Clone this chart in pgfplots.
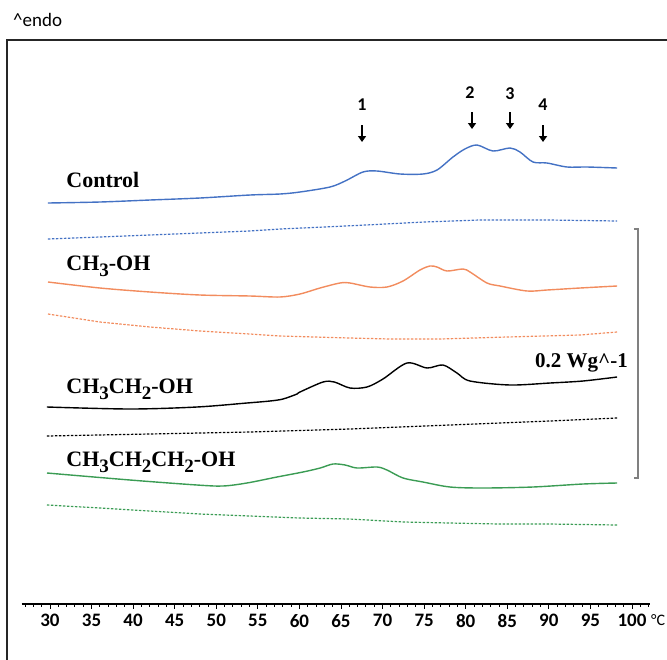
\documentclass[border=0pt]{standalone}
\usepackage{fontspec}
\setmainfont{Liberation Serif}
\newfontfamily\calibri{Carlito}
\usepackage{pgfplots}
\pgfplotsset{compat=1.18}
\usetikzlibrary{arrows.meta}

\definecolor{cblue}{HTML}{4472C4}
\definecolor{corange}{HTML}{F28C5E}
\definecolor{cgreen}{HTML}{3B9C54}

\pgfplotsset{
  curve/.style={line width=1.4bp, smooth, tension=0.5, mark=none},
  base/.style={line width=1.2bp, mark=none, dash pattern=on 2.5bp off 1.5bp},
}
\newcommand{\lab}{\bfseries\fontsize{22bp}{24bp}\selectfont}
\newcommand{\sub}[1]{\raisebox{-0.3em}{\fontsize{19bp}{20bp}\selectfont #1}}
\tikzset{pk/.style={line width=1.8bp, -{Triangle[width=8bp,length=6bp]}},
  num/.style={font=\calibri\bfseries\fontsize{18bp}{20bp}\selectfont}}

\begin{document}
\begin{tikzpicture}
\useasboundingbox (0,0) rectangle (667bp,660bp);

% curves, y in pixels from the top
\begin{axis}[
  at={(0,0)}, anchor=south west,
  scale only axis, width=667bp, height=660bp,
  xmin=23.99, xmax=104.21, ymin=0, ymax=660, y dir=reverse,
  hide axis, clip=false
]
% Control
\addplot[cblue, curve] coordinates {
 (29.76,203) (36.01,202) (42.03,200) (48.04,198) (54.06,195) (57.66,194)
 (60.07,192) (63.68,187) (65.5,181) (67.65,172) (69.33,171) (72.10,174)
 (74.86,174) (76.55,170) (78.47,157) (79.9,149) (81.36,145) (83.28,151)
 (85.33,148) (86.53,152) (88.09,162) (89.78,163) (92.18,167) (94.59,167)
 (98.20,168)
};
\addplot[cblue, base] coordinates {
 (29.76,239) (36,237) (42,235) (48,233) (54,231) (57.66,229) (63,227)
 (68,225) (75,222) (81.7,220) (90,220) (98.2,221)
};
% CH3-OH
\addplot[corange, curve] coordinates {
 (29.76,282) (36.01,288) (42.03,292) (48.04,295) (54.06,296) (57.66,297)
 (60.07,294) (62.48,288) (64.88,283) (66.08,283) (68.49,287) (70.53,287)
 (72.46,281) (74.50,270) (75.71,266) (76.55,267) (77.75,271) (79.67,269)
 (80.52,272) (82.56,283) (84.13,286) (87.37,291) (89.78,290) (93.75,288)
 (98.20,286)
};
\addplot[corange, base] coordinates {
 (29.76,314) (36.01,322) (42.03,327) (48.04,331) (54.06,334) (57.66,336)
 (66,338) (70.9,339) (76.9,339) (85,337) (93.75,335) (98.2,332)
};
% CH3CH2-OH
\addplot[black, curve] coordinates {
 (29.64,407) (39.62,409) (47.68,407) (53.69,403) (56.46,401) (58.03,399)
 (59.71,394) (60.07,392) (62.84,382) (64.2,382) (66.08,388) (68.13,387)
 (70.05,379) (72.94,363) (75.35,368) (77.27,365) (78.95,373) (80.52,381)
 (85.33,385) (90.14,383) (94.11,381) (98.20,377)
};
\addplot[black, base] coordinates {
 (29.64,436) (42,434) (54.06,432) (66.08,429) (78.11,425) (90.14,421)
 (98.2,418)
};
% CH3CH2CH2-OH
\addplot[cgreen, curve] coordinates {
 (29.64,473) (39.62,480) (47.68,485) (50.81,486) (53.69,483) (57.3,477)
 (60.43,472) (62.5,468) (64.04,464) (65.5,465) (66.93,468) (69.33,467)
 (70.53,470) (72.46,478) (74.86,482) (78.11,487) (82.08,488) (88.09,487)
 (94.11,484) (98.20,483)
};
\addplot[cgreen, base] coordinates {
 (29.64,505) (36,508) (42,511) (48,514) (54,516) (60,518) (66,519)
 (72.5,522) (78,523) (84,524) (90,524) (98.2,525)
};

% sample labels
\node[anchor=base west, inner sep=0pt] at (axis cs:31.95,187) {\lab Control};
\node[anchor=base west, inner sep=0pt] at (axis cs:31.95,270) {\lab CH\sub{3}-OH};
\node[anchor=base west, inner sep=0pt] at (axis cs:31.95,393) {\lab CH\sub{3}CH\sub{2}-OH};
\node[anchor=base west, inner sep=0pt] at (axis cs:31.95,466) {\lab CH\sub{3}CH\sub{2}CH\sub{2}-OH};

% peak arrows
\draw[pk] (axis cs:67.53,125) -- (axis cs:67.53,142);
\draw[pk] (axis cs:80.76,112) -- (axis cs:80.76,129);
\draw[pk] (axis cs:85.33,112) -- (axis cs:85.33,129);
\draw[pk] (axis cs:89.30,125) -- (axis cs:89.30,142);
\node[num] at (axis cs:67.53,105) {1};
\node[num] at (axis cs:80.52,93) {2};
\node[num] at (axis cs:85.33,94) {3};
\node[num] at (axis cs:89.30,105) {4};

% scale bar
\draw[gray, line width=1.2bp] (axis cs:100.24,229) -- (axis cs:100.72,229) -- (axis cs:100.72,478) -- (axis cs:100.24,478);
\node[anchor=base west, inner sep=0pt] at (axis cs:88.33,367) {\bfseries\fontsize{21bp}{22bp}\selectfont 0.2 Wg\^{}-1};
\node[anchor=west, inner sep=0pt, font=\calibri\fontsize{16bp}{18bp}\selectfont] at (axis cs:102.29,620) {\textdegree C};
\end{axis}

% temperature axis
\begin{axis}[
  at={(21.7bp,56bp)}, anchor=south west,
  scale only axis, width=628.6bp, height=10bp,
  xmin=26.6, xmax=102.2, ymin=0, ymax=1,
  axis x line*=bottom, axis y line=none,
  x axis line style={line width=2.8bp},
  xtick={30,35,...,100},
  minor xtick={27,28,...,102},
  xtick align=outside,
  major tick length=5bp, minor tick length=3bp,
  tick style={black, line width=0.9bp},
  /pgf/number format/assume math mode=true,
  xticklabel style={font=\calibri\bfseries\fontsize{19bp}{20bp}\selectfont, yshift=-2bp},
]
\addplot[draw=none] coordinates {(30,0.5) (100,0.5)};
\end{axis}

% frame and corner label
\draw[black!85, line width=1.8bp] (7bp,0bp) -- (7bp,620bp) -- (667bp,620bp);
\node[anchor=base west, inner sep=0pt, font=\calibri\fontsize{19bp}{22bp}\selectfont] at (13bp,633bp) {\^{}endo};
\end{tikzpicture}
\end{document}
